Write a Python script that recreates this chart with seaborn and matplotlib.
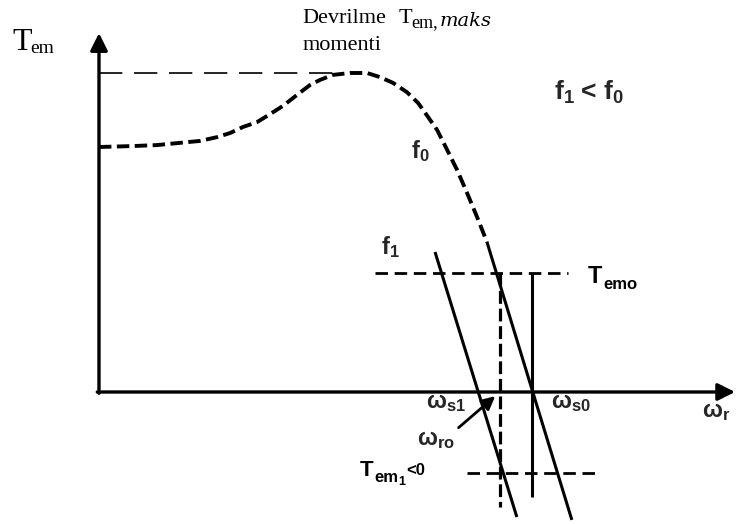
import numpy as np
import pandas as pd
import matplotlib
matplotlib.use("Agg")
import matplotlib.pyplot as plt
import seaborn as sns

# Torque-speed curve at the base frequency f0 (normalised: omega_s0 = 1, T_max = 1)
f0_omega = [0.000, 0.079, 0.134, 0.187, 0.233, 0.273, 0.303, 0.333, 0.365,
            0.395, 0.425, 0.457, 0.487, 0.510, 0.540, 0.580, 0.619, 0.649,
            0.679, 0.711, 0.737, 0.760, 0.781, 0.804, 0.827, 0.850, 0.873,
            0.896]
f0_torque = [0.768, 0.771, 0.774, 0.781, 0.787, 0.799, 0.812, 0.831, 0.846,
             0.871, 0.897, 0.931, 0.962, 0.978, 0.994, 1.000, 1.000, 0.987,
             0.969, 0.940, 0.906, 0.862, 0.821, 0.759, 0.696, 0.624, 0.549,
             0.470]

# Linear (stable) part of the two characteristics
f0_lin_omega = [0.896, 1.092]
f0_lin_torque = [0.470, -0.401]
f1_lin_omega = [0.776, 0.965]
f1_lin_torque = [0.439, -0.392]

# Operating quantities
T_max = 1.0
T_emo = 0.373
T_em1 = -0.254
omega_s1 = 0.878
omega_s0 = 1.0
omega_ro = 0.926

sns.set_theme(style="white")
plt.rcParams["mathtext.fontset"] = "custom"
plt.rcParams["mathtext.rm"] = "Liberation Serif"
plt.rcParams["mathtext.it"] = "Liberation Serif:italic"
plt.rcParams["mathtext.bf"] = "Liberation Sans:bold"
plt.rcParams["font.family"] = ["Liberation Serif", "DejaVu Serif"]

fig = plt.figure(figsize=(7.36, 5.24), dpi=100)
ax = fig.add_axes([0, 0, 1, 1])
ax.set_xlim(-0.2286, 1.4711)
ax.set_ylim(-0.4138, 1.2288)
ax.axis("off")
renderer = fig.canvas.get_renderer()

K = "black"
SANS = ["Liberation Sans", "DejaVu Sans"]
SERIF = ["Liberation Serif", "DejaVu Serif"]


def line(xs, ys, lw, dashes=None):
    df = pd.DataFrame({"w": xs, "T": ys})
    sns.lineplot(data=df, x="w", y="T", ax=ax, color=K, linewidth=lw,
                 sort=False, estimator=None, legend=False)
    ln = ax.lines[-1]
    ln.set_solid_capstyle("butt")
    ln.set_solid_joinstyle("round")
    if dashes is not None:
        ln.set_dashes(dashes)
        ln.set_dash_capstyle("butt")
    return ln


def chain(x, parts):
    """Write text pieces one after another; each part is
    (text, size, y, gap_in_data_units, extra_kwargs)."""
    for s, size, y, gap, kw in parts:
        kw = dict(kw)
        va = kw.pop("va", "baseline")
        t = ax.text(x + gap, y, s, fontsize=size, ha="left", va=va,
                    color=K, **kw)
        bb = t.get_window_extent(renderer)
        x = ax.transData.inverted().transform((bb.x1, bb.y0))[0]


# Coordinate axes with arrow heads
arrow_kw = dict(arrowstyle="-|>", lw=2.4, color=K, mutation_scale=26,
                shrinkA=0, shrinkB=0)
ax.annotate("", xy=(0, 1.125), xytext=(0, -0.004), arrowprops=arrow_kw)
ax.annotate("", xy=(1.469, 0), xytext=(-0.004, 0), arrowprops=arrow_kw)

# Breakdown torque level
line([0.0, 0.560], [T_max, T_max], 1.2, dashes=(14, 7))

# f0 curve: dashed nonlinear part, solid linear part
line(f0_omega, f0_torque, 2.8, dashes=(3.2, 1.4))
line(f0_lin_omega, f0_lin_torque, 2.2)
line(f1_lin_omega, f1_lin_torque, 2.2)

# Load torque levels
line([0.637, 1.083], [T_emo, T_emo], 2.0, dashes=(4.5, 2.4))
line([0.850, 1.152], [T_em1, T_em1], 2.0, dashes=(4.5, 2.4))

# Verticals at omega_ro (dashed) and omega_s0 (solid)
line([omega_ro, omega_ro], [T_emo, -0.360], 2.3, dashes=(4.0, 1.5))
line([omega_s0, omega_s0], [T_emo, -0.329], 2.2)

serif = dict(family=SERIF)
bold = dict(family=SANS, weight="bold")

# Vertical axis name
chain(-0.199, [("T", 23, 1.072, 0, serif), ("em", 14, 1.062, -0.004, serif)])

# Breakdown torque caption
chain(0.469, [("Devrilme", 16, 1.157, 0, serif),
              ("T", 16, 1.157, 0.030, serif),
              ("em,", 13, 1.144, -0.002, serif),
              ("maks", 14, 1.147, 0.004,
               dict(family=["DejaVu Serif"], style="italic"))])
chain(0.469, [("momenti", 16, 1.072, 0, serif)])

# Bold sans labels
ax.text(1.132, 0.940, r"$\mathbf{f_1\,<\,f_0}$", fontsize=19,
        ha="center", va="center")
ax.text(0.741, 0.755, r"$\mathbf{f_0}$", fontsize=17, ha="center", va="center")
ax.text(0.672, 0.455, r"$\mathbf{f_1}$", fontsize=17, ha="center", va="center")

chain(1.129, [("T", 17, 0.342, 0, bold), ("emo", 12, 0.322, 0.002, bold)])

chain(0.603, [("T", 16, -0.262, 0, bold),
              ("em", 12, -0.282, 0.001, bold),
              ("1", 9, -0.290, 0.001, bold),
              ("<0", 12, -0.246, 0.002, dict(bold, va="center"))])

ax.text(0.755, -0.036, r"$\mathbf{\omega_{s1}}$", fontsize=17, ha="left",
        va="center")
ax.text(1.044, -0.036, r"$\mathbf{\omega_{s0}}$", fontsize=17, ha="left",
        va="center")
ax.text(1.393, -0.064, r"$\mathbf{\omega_r}$", fontsize=17, ha="left",
        va="center")
ax.annotate(r"$\mathbf{\omega_{ro}}$", xy=(0.915, -0.013),
            xytext=(0.735, -0.150), fontsize=17, ha="left", va="center",
            arrowprops=dict(arrowstyle="-|>", lw=2.0, color=K,
                            mutation_scale=20, shrinkA=0, shrinkB=0,
                            relpos=(0.95, 0.85)))

fig.savefig("out.png", dpi=100)
